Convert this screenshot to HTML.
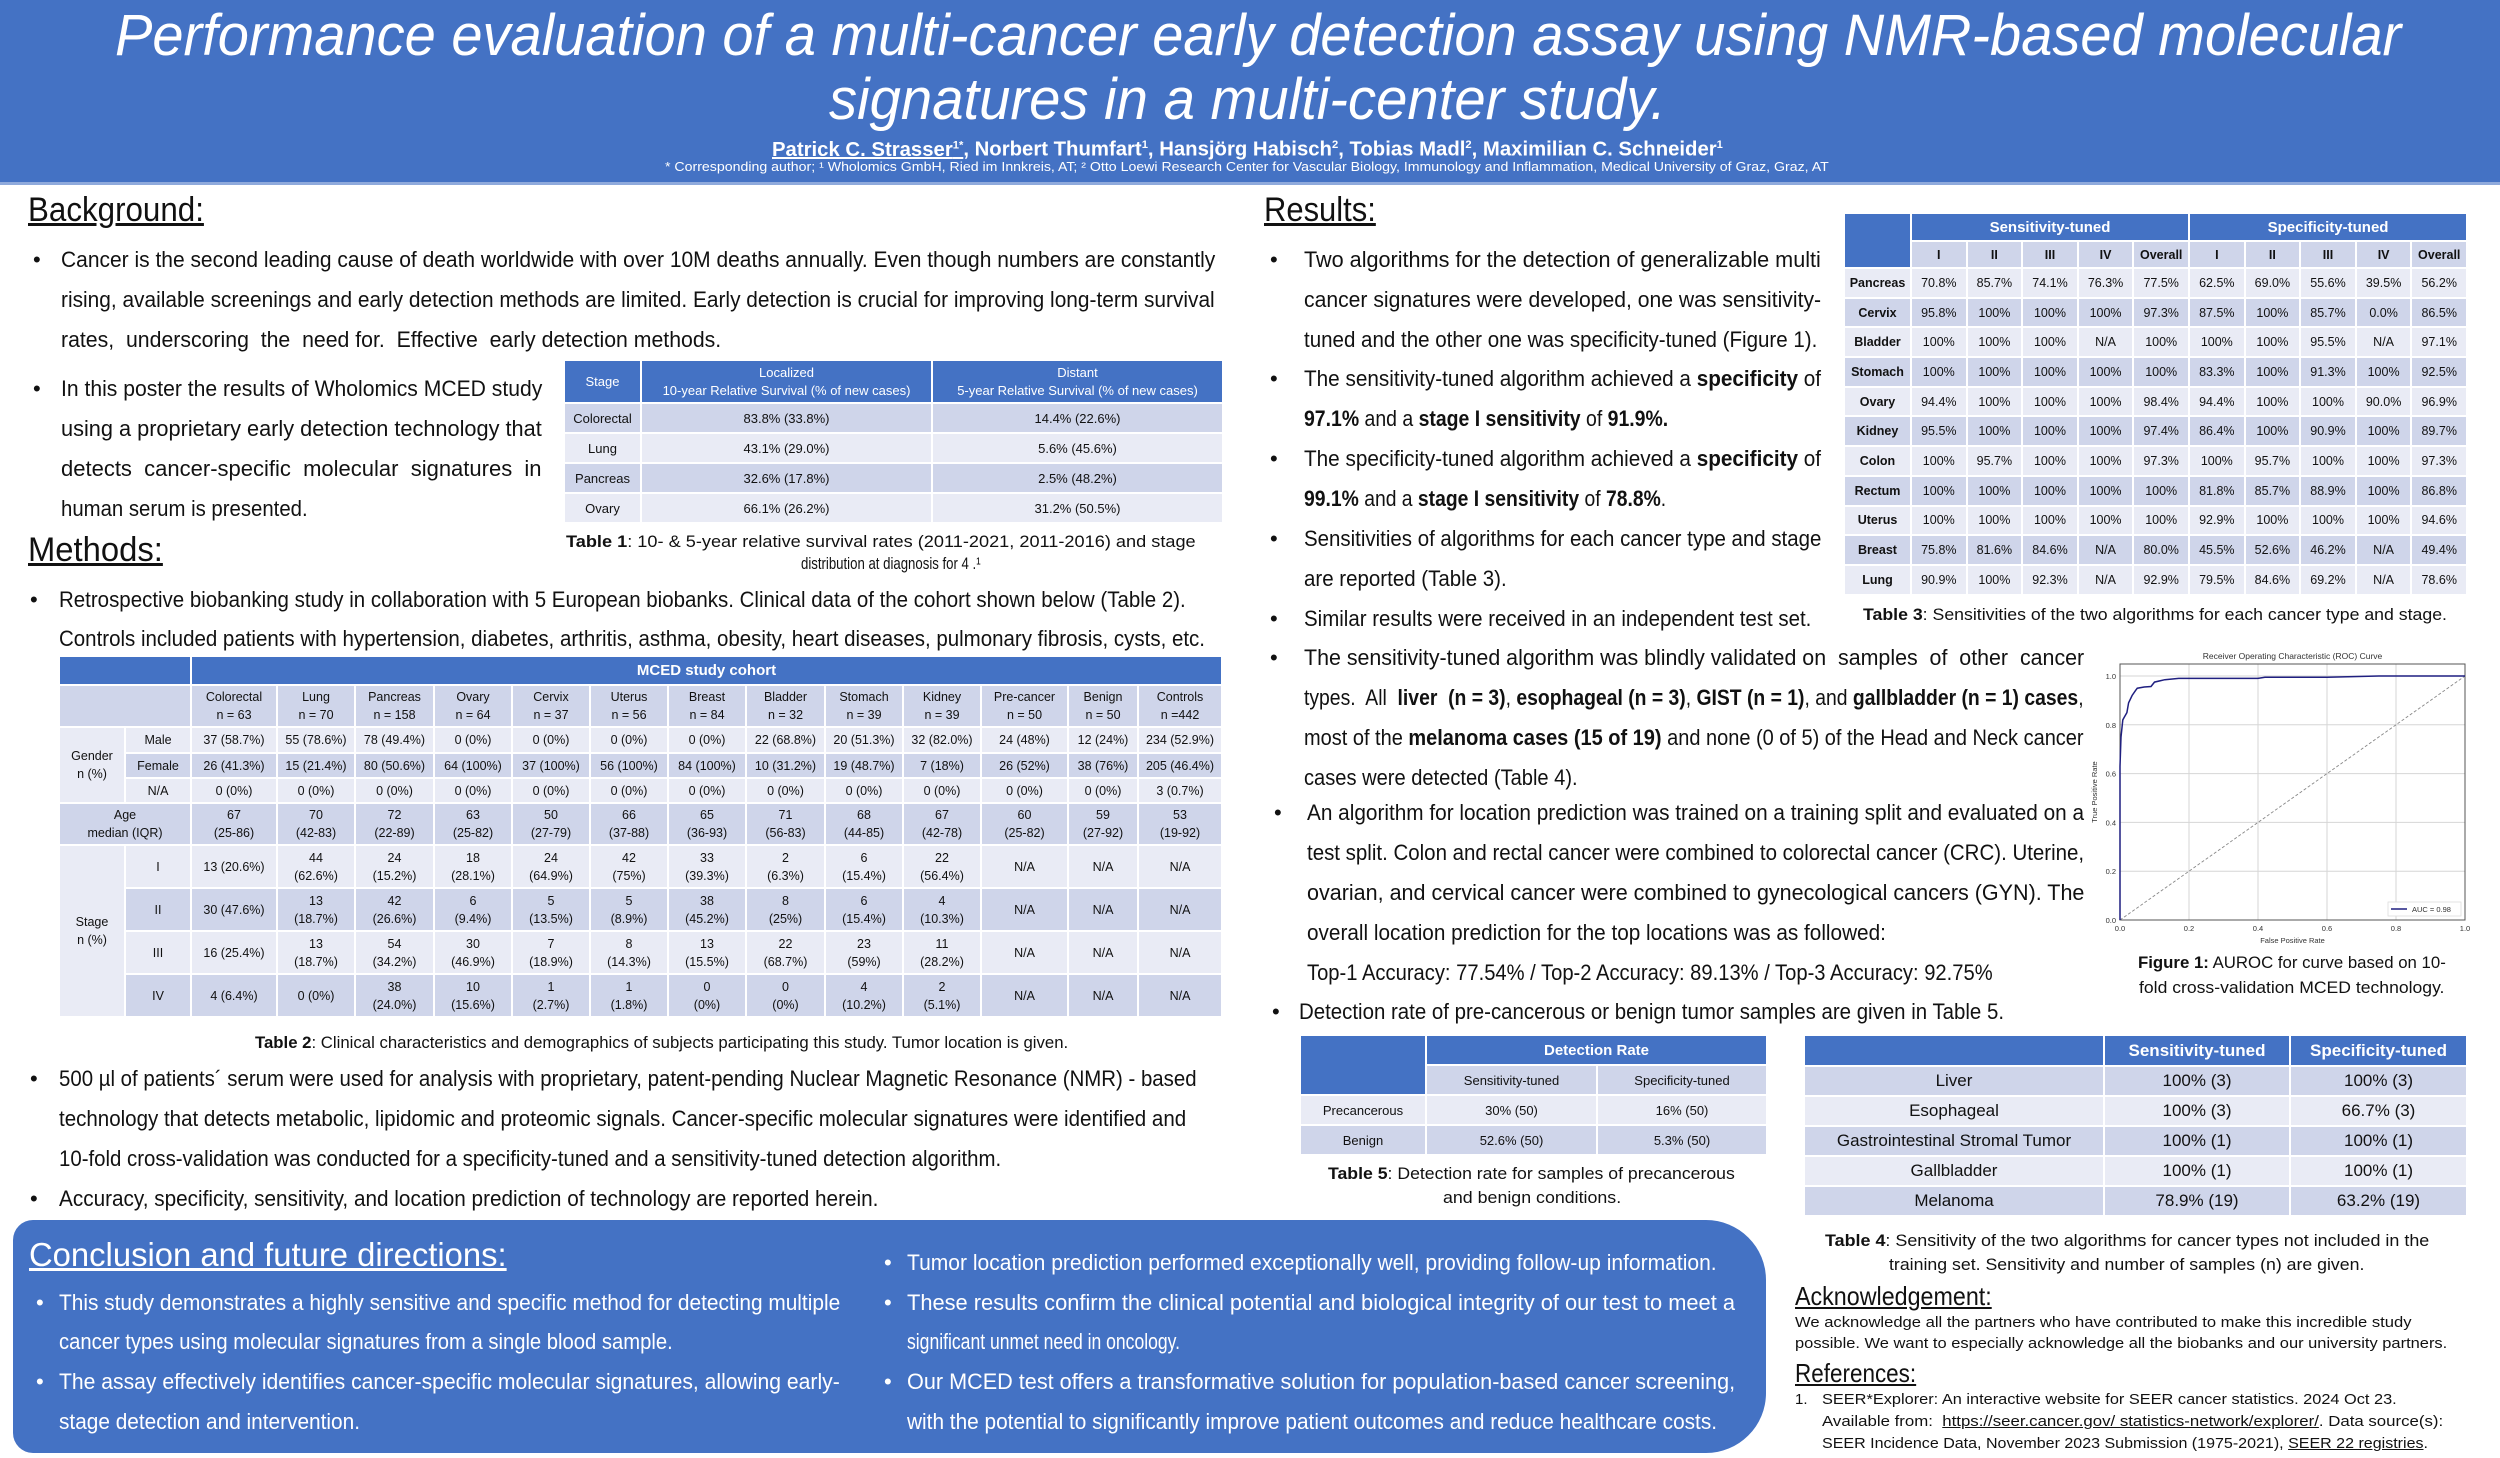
<!DOCTYPE html>
<html><head><meta charset="utf-8">
<style>
*{margin:0;padding:0;box-sizing:border-box}
body{width:2500px;height:1458px;position:relative;background:#fff;font-family:"Liberation Sans",sans-serif;color:#111;overflow:hidden}
.ln{position:absolute;white-space:pre;line-height:30px;font-size:22px;transform-origin:0 50%}
.bu{position:absolute;font-size:22px;line-height:30px}
.h{position:absolute;white-space:pre;font-size:34px;line-height:44px;text-decoration:underline;transform-origin:0 50%}
.w{color:#fff}
table{position:absolute;border-collapse:collapse;table-layout:fixed;font-family:"Liberation Sans",sans-serif}
td{border:2px solid #fff;text-align:center;vertical-align:middle;padding:0;overflow:hidden;white-space:nowrap}
.bh{background:#4472c4;color:#fff;font-weight:bold}
.d td,td.d{background:#cfd5ea}
.l td,td.l{background:#e9ebf5}
.bh2{background:#4472c4 !important;color:#fff}
</style></head><body>
<div style="position:absolute;left:0;top:0;width:2500px;height:185px;background:#4472c4;border-bottom:3px solid #8faadc"></div>
<div class="ln w" data-w="2286" style="left:115px;top:3px;font-size:58px;line-height:66px;font-style:italic">Performance evaluation of a multi-cancer early detection assay using NMR-based molecular</div>
<div class="ln w" data-w="837" style="left:829px;top:67px;font-size:58px;line-height:66px;font-style:italic">signatures in a multi-center study.</div>
<div class="ln w" data-w="951" style="left:772px;top:131px;font-size:20px;line-height:28px;font-weight:bold"><u>Patrick C. Strasser<sup style="font-size:11px">1*</sup></u>, Norbert Thumfart<sup style="font-size:11px">1</sup>, Hansjörg Habisch<sup style="font-size:11px">2</sup>, Tobias Madl<sup style="font-size:11px">2</sup>, Maximilian C. Schneider<sup style="font-size:11px">1</sup></div>
<div class="ln w" data-w="1164" style="left:665px;top:158px;font-size:13px;line-height:18px">* Corresponding author; ¹ Wholomics GmbH, Ried im Innkreis, AT; ² Otto Loewi Research Center for Vascular Biology, Immunology and Inflammation, Medical University of Graz, Graz, AT</div>

<div class="h" data-w="176" style="left:28px;top:188px">Background:</div>
<div class="bu" style="left:33px;top:245px">•</div>
<div class="ln" data-w="1154" style="left:61px;top:245px">Cancer is the second leading cause of death worldwide with over 10M deaths annually. Even though numbers are constantly</div>
<div class="ln" data-w="1154" style="left:61px;top:285px">rising, available screenings and early detection methods are limited. Early detection is crucial for improving long-term survival</div>
<div class="ln" data-w="660" style="left:61px;top:325px">rates,  underscoring  the  need for.  Effective  early detection methods.</div>
<div class="bu" style="left:33px;top:374px">•</div>
<div class="ln" data-w="481" style="left:61px;top:374px">In this poster the results of Wholomics MCED study</div>
<div class="ln" data-w="481" style="left:61px;top:414px">using a proprietary early detection technology that</div>
<div class="ln" data-w="481" style="left:61px;top:454px">detects  cancer-specific  molecular  signatures  in</div>
<div class="ln" data-w="247" style="left:61px;top:494px">human serum is presented.</div>

<table style="left:563px;top:359px;width:659px;font-size:13px">
<colgroup><col style="width:77px"><col style="width:291px"><col style="width:291px"></colgroup>
<tr style="height:43px"><td class="bh" style="font-weight:normal">Stage</td><td class="bh" style="font-weight:normal;line-height:18px">Localized<br>10-year Relative Survival (% of new cases)</td><td class="bh" style="font-weight:normal;line-height:18px">Distant<br>5-year Relative Survival (% of new cases)</td></tr>
<tr class="d" style="height:30px"><td>Colorectal</td><td>83.8% (33.8%)</td><td>14.4% (22.6%)</td></tr>
<tr class="l" style="height:30px"><td>Lung</td><td>43.1% (29.0%)</td><td>5.6% (45.6%)</td></tr>
<tr class="d" style="height:30px"><td>Pancreas</td><td>32.6% (17.8%)</td><td>2.5% (48.2%)</td></tr>
<tr class="l" style="height:30px"><td>Ovary</td><td>66.1% (26.2%)</td><td>31.2% (50.5%)</td></tr>
</table>
<div class="ln" data-w="630" style="left:566px;top:531px;font-size:17px;line-height:22px"><b>Table 1</b>: 10- &amp; 5-year relative survival rates (2011-2021, 2011-2016) and stage</div>
<div class="ln" data-w="180" style="left:801px;top:553px;font-size:17px;line-height:22px">distribution at diagnosis for 4 .¹</div>

<div class="h" data-w="135" style="left:28px;top:528px">Methods:</div>
<div class="bu" style="left:30px;top:585px">•</div>
<div class="ln" data-w="1127" style="left:59px;top:585px">Retrospective biobanking study in collaboration with 5 European biobanks. Clinical data of the cohort shown below (Table 2).</div>
<div class="ln" data-w="1146" style="left:59px;top:624px">Controls included patients with hypertension, diabetes, arthritis, asthma, obesity, heart diseases, pulmonary fibrosis, cysts, etc.</div>

<table style="left:58px;top:655px;width:1163px;font-size:12.5px">
<colgroup><col style="width:66px"><col style="width:66px"><col style="width:86px"><col style="width:78px"><col style="width:79px"><col style="width:78px"><col style="width:78px"><col style="width:78px"><col style="width:78px"><col style="width:79px"><col style="width:78px"><col style="width:78px"><col style="width:87px"><col style="width:70px"><col style="width:84px"></colgroup>
<tr style="height:29px"><td colspan="2" class="bh"></td><td colspan="13" class="bh" style="font-size:15px">MCED study cohort</td></tr>
<tr class="d" style="height:42px;line-height:18px"><td colspan="2"></td><td>Colorectal<br>n = 63</td><td>Lung<br>n = 70</td><td>Pancreas<br>n = 158</td><td>Ovary<br>n = 64</td><td>Cervix<br>n = 37</td><td>Uterus<br>n = 56</td><td>Breast<br>n = 84</td><td>Bladder<br>n = 32</td><td>Stomach<br>n = 39</td><td>Kidney<br>n = 39</td><td>Pre-cancer<br>n = 50</td><td>Benign<br>n = 50</td><td>Controls<br>n =442</td></tr>
<tr class="l" style="height:26px"><td rowspan="3" class="l" style="line-height:18px">Gender<br>n (%)</td><td>Male</td><td>37 (58.7%)</td><td>55 (78.6%)</td><td>78 (49.4%)</td><td>0 (0%)</td><td>0 (0%)</td><td>0 (0%)</td><td>0 (0%)</td><td>22 (68.8%)</td><td>20 (51.3%)</td><td>32 (82.0%)</td><td>24 (48%)</td><td>12 (24%)</td><td>234 (52.9%)</td></tr>
<tr class="d" style="height:25px"><td>Female</td><td>26 (41.3%)</td><td>15 (21.4%)</td><td>80 (50.6%)</td><td>64 (100%)</td><td>37 (100%)</td><td>56 (100%)</td><td>84 (100%)</td><td>10 (31.2%)</td><td>19 (48.7%)</td><td>7 (18%)</td><td>26 (52%)</td><td>38 (76%)</td><td>205 (46.4%)</td></tr>
<tr class="l" style="height:25px"><td>N/A</td><td>0 (0%)</td><td>0 (0%)</td><td>0 (0%)</td><td>0 (0%)</td><td>0 (0%)</td><td>0 (0%)</td><td>0 (0%)</td><td>0 (0%)</td><td>0 (0%)</td><td>0 (0%)</td><td>0 (0%)</td><td>0 (0%)</td><td>3 (0.7%)</td></tr>
<tr class="d" style="height:42px;line-height:18px"><td colspan="2">Age<br>median (IQR)</td><td>67<br>(25-86)</td><td>70<br>(42-83)</td><td>72<br>(22-89)</td><td>63<br>(25-82)</td><td>50<br>(27-79)</td><td>66<br>(37-88)</td><td>65<br>(36-93)</td><td>71<br>(56-83)</td><td>68<br>(44-85)</td><td>67<br>(42-78)</td><td>60<br>(25-82)</td><td>59<br>(27-92)</td><td>53<br>(19-92)</td></tr>
<tr class="l" style="height:43px;line-height:18px"><td rowspan="4" class="l">Stage<br>n (%)</td><td>I</td><td>13 (20.6%)</td><td>44<br>(62.6%)</td><td>24<br>(15.2%)</td><td>18<br>(28.1%)</td><td>24<br>(64.9%)</td><td>42<br>(75%)</td><td>33<br>(39.3%)</td><td>2<br>(6.3%)</td><td>6<br>(15.4%)</td><td>22<br>(56.4%)</td><td>N/A</td><td>N/A</td><td>N/A</td></tr>
<tr class="d" style="height:43px;line-height:18px"><td>II</td><td>30 (47.6%)</td><td>13<br>(18.7%)</td><td>42<br>(26.6%)</td><td>6<br>(9.4%)</td><td>5<br>(13.5%)</td><td>5<br>(8.9%)</td><td>38<br>(45.2%)</td><td>8<br>(25%)</td><td>6<br>(15.4%)</td><td>4<br>(10.3%)</td><td>N/A</td><td>N/A</td><td>N/A</td></tr>
<tr class="l" style="height:43px;line-height:18px"><td>III</td><td>16 (25.4%)</td><td>13<br>(18.7%)</td><td>54<br>(34.2%)</td><td>30<br>(46.9%)</td><td>7<br>(18.9%)</td><td>8<br>(14.3%)</td><td>13<br>(15.5%)</td><td>22<br>(68.7%)</td><td>23<br>(59%)</td><td>11<br>(28.2%)</td><td>N/A</td><td>N/A</td><td>N/A</td></tr>
<tr class="d" style="height:43px;line-height:18px"><td>IV</td><td>4 (6.4%)</td><td>0 (0%)</td><td>38<br>(24.0%)</td><td>10<br>(15.6%)</td><td>1<br>(2.7%)</td><td>1<br>(1.8%)</td><td>0<br>(0%)</td><td>0<br>(0%)</td><td>4<br>(10.2%)</td><td>2<br>(5.1%)</td><td>N/A</td><td>N/A</td><td>N/A</td></tr>
</table>
<div class="ln" data-w="813" style="left:255px;top:1032px;font-size:17px;line-height:22px"><b>Table 2</b>: Clinical characteristics and demographics of subjects participating this study. Tumor location is given.</div>

<div class="bu" style="left:30px;top:1064px">•</div>
<div class="ln" data-w="1138" style="left:59px;top:1064px">500 µl of patients´ serum were used for analysis with proprietary, patent-pending Nuclear Magnetic Resonance (NMR) - based</div>
<div class="ln" data-w="1127" style="left:59px;top:1104px">technology that detects metabolic, lipidomic and proteomic signals. Cancer-specific molecular signatures were identified and</div>
<div class="ln" data-w="942" style="left:59px;top:1144px">10-fold cross-validation was conducted for a specificity-tuned and a sensitivity-tuned detection algorithm.</div>
<div class="bu" style="left:30px;top:1184px">•</div>
<div class="ln" data-w="819" style="left:59px;top:1184px">Accuracy, specificity, sensitivity, and location prediction of technology are reported herein.</div>

<div style="position:absolute;left:13px;top:1220px;width:1753px;height:233px;background:#4472c4;border-radius:20px 60px 60px 20px"></div>
<div class="h w" data-w="478" style="left:29px;top:1233px;font-size:33px">Conclusion and future directions:</div>
<div class="bu w" style="left:36px;top:1288px">•</div>
<div class="ln w" data-w="781" style="left:59px;top:1288px">This study demonstrates a highly sensitive and specific method for detecting multiple</div>
<div class="ln w" data-w="614" style="left:59px;top:1327px">cancer types using molecular signatures from a single blood sample.</div>
<div class="bu w" style="left:36px;top:1367px">•</div>
<div class="ln w" data-w="781" style="left:59px;top:1367px">The assay effectively identifies cancer-specific molecular signatures, allowing early-</div>
<div class="ln w" data-w="301" style="left:59px;top:1407px">stage detection and intervention.</div>
<div class="bu w" style="left:884px;top:1248px">•</div>
<div class="ln w" data-w="810" style="left:907px;top:1248px">Tumor location prediction performed exceptionally well, providing follow-up information.</div>
<div class="bu w" style="left:884px;top:1288px">•</div>
<div class="ln w" data-w="828" style="left:907px;top:1288px">These results confirm the clinical potential and biological integrity of our test to meet a</div>
<div class="ln w" data-w="273" style="left:907px;top:1327px">significant unmet need in oncology.</div>
<div class="bu w" style="left:884px;top:1367px">•</div>
<div class="ln w" data-w="828" style="left:907px;top:1367px">Our MCED test offers a transformative solution for population-based cancer screening,</div>
<div class="ln w" data-w="810" style="left:907px;top:1407px">with the potential to significantly improve patient outcomes and reduce healthcare costs.</div>

<div class="h" data-w="112" style="left:1264px;top:188px">Results:</div>
<div class="bu" style="left:1270px;top:245px">•</div>
<div class="ln" data-w="517" style="left:1304px;top:245px">Two algorithms for the detection of generalizable multi</div>
<div class="ln" data-w="517" style="left:1304px;top:285px">cancer signatures were developed, one was sensitivity-</div>
<div class="ln" data-w="513" style="left:1304px;top:325px">tuned and the other one was specificity-tuned (Figure 1).</div>
<div class="bu" style="left:1270px;top:364px">•</div>
<div class="ln" data-w="517" style="left:1304px;top:364px">The sensitivity-tuned algorithm achieved a <b>specificity</b> of</div>
<div class="ln" data-w="364" style="left:1304px;top:404px"><b>97.1%</b> and a <b>stage I sensitivity</b> of <b>91.9%.</b></div>
<div class="bu" style="left:1270px;top:444px">•</div>
<div class="ln" data-w="517" style="left:1304px;top:444px">The specificity-tuned algorithm achieved a <b>specificity</b> of</div>
<div class="ln" data-w="362" style="left:1304px;top:484px"><b>99.1%</b> and a <b>stage I sensitivity</b> of <b>78.8%</b>.</div>
<div class="bu" style="left:1270px;top:524px">•</div>
<div class="ln" data-w="517" style="left:1304px;top:524px">Sensitivities of algorithms for each cancer type and stage</div>
<div class="ln" data-w="203" style="left:1304px;top:564px">are reported (Table 3).</div>
<div class="bu" style="left:1270px;top:604px">•</div>
<div class="ln" data-w="507" style="left:1304px;top:604px">Similar results were received in an independent test set.</div>
<div class="bu" style="left:1270px;top:643px">•</div>
<div class="ln" data-w="780" style="left:1304px;top:643px">The sensitivity-tuned algorithm was blindly validated on  samples  of  other  cancer</div>
<div class="ln" data-w="780" style="left:1304px;top:683px">types.  All  <b>liver  (n = 3)</b>, <b>esophageal (n = 3)</b>, <b>GIST (n = 1)</b>, and <b>gallbladder (n = 1) cases</b>,</div>
<div class="ln" data-w="780" style="left:1304px;top:723px">most of the <b>melanoma cases (15 of 19)</b> and none (0 of 5) of the Head and Neck cancer</div>
<div class="ln" data-w="274" style="left:1304px;top:763px">cases were detected (Table 4).</div>
<div class="bu" style="left:1274px;top:798px">•</div>
<div class="ln" data-w="777" style="left:1307px;top:798px">An algorithm for location prediction was trained on a training split and evaluated on a</div>
<div class="ln" data-w="777" style="left:1307px;top:838px">test split. Colon and rectal cancer were combined to colorectal cancer (CRC). Uterine,</div>
<div class="ln" data-w="777" style="left:1307px;top:878px">ovarian, and cervical cancer were combined to gynecological cancers (GYN). The</div>
<div class="ln" data-w="579" style="left:1307px;top:918px">overall location prediction for the top locations was as followed:</div>
<div class="ln" data-w="686" style="left:1307px;top:958px">Top-1 Accuracy: 77.54% / Top-2 Accuracy: 89.13% / Top-3 Accuracy: 92.75%</div>
<div class="bu" style="left:1272px;top:997px">•</div>
<div class="ln" data-w="705" style="left:1299px;top:997px">Detection rate of pre-cancerous or benign tumor samples are given in Table 5.</div>

<table style="left:1843px;top:212px;width:623px;font-size:12.5px">
<colgroup><col style="width:67px"><col span="10" style="width:55.6px"></colgroup>
<tr style="height:28px"><td rowspan="2" class="bh"></td><td colspan="5" class="bh" style="font-size:15px">Sensitivity-tuned</td><td colspan="5" class="bh" style="font-size:15px">Specificity-tuned</td></tr>
<tr class="d" style="height:27px;font-weight:bold"><td>I</td><td>II</td><td>III</td><td>IV</td><td>Overall</td><td>I</td><td>II</td><td>III</td><td>IV</td><td>Overall</td></tr>
<tr class="l" style="height:29.7px"><td><b>Pancreas</b></td><td>70.8%</td><td>85.7%</td><td>74.1%</td><td>76.3%</td><td>77.5%</td><td>62.5%</td><td>69.0%</td><td>55.6%</td><td>39.5%</td><td>56.2%</td></tr>
<tr class="d" style="height:29.7px"><td><b>Cervix</b></td><td>95.8%</td><td>100%</td><td>100%</td><td>100%</td><td>97.3%</td><td>87.5%</td><td>100%</td><td>85.7%</td><td>0.0%</td><td>86.5%</td></tr>
<tr class="l" style="height:29.7px"><td><b>Bladder</b></td><td>100%</td><td>100%</td><td>100%</td><td>N/A</td><td>100%</td><td>100%</td><td>100%</td><td>95.5%</td><td>N/A</td><td>97.1%</td></tr>
<tr class="d" style="height:29.7px"><td><b>Stomach</b></td><td>100%</td><td>100%</td><td>100%</td><td>100%</td><td>100%</td><td>83.3%</td><td>100%</td><td>91.3%</td><td>100%</td><td>92.5%</td></tr>
<tr class="l" style="height:29.7px"><td><b>Ovary</b></td><td>94.4%</td><td>100%</td><td>100%</td><td>100%</td><td>98.4%</td><td>94.4%</td><td>100%</td><td>100%</td><td>90.0%</td><td>96.9%</td></tr>
<tr class="d" style="height:29.7px"><td><b>Kidney</b></td><td>95.5%</td><td>100%</td><td>100%</td><td>100%</td><td>97.4%</td><td>86.4%</td><td>100%</td><td>90.9%</td><td>100%</td><td>89.7%</td></tr>
<tr class="l" style="height:29.7px"><td><b>Colon</b></td><td>100%</td><td>95.7%</td><td>100%</td><td>100%</td><td>97.3%</td><td>100%</td><td>95.7%</td><td>100%</td><td>100%</td><td>97.3%</td></tr>
<tr class="d" style="height:29.7px"><td><b>Rectum</b></td><td>100%</td><td>100%</td><td>100%</td><td>100%</td><td>100%</td><td>81.8%</td><td>85.7%</td><td>88.9%</td><td>100%</td><td>86.8%</td></tr>
<tr class="l" style="height:29.7px"><td><b>Uterus</b></td><td>100%</td><td>100%</td><td>100%</td><td>100%</td><td>100%</td><td>92.9%</td><td>100%</td><td>100%</td><td>100%</td><td>94.6%</td></tr>
<tr class="d" style="height:29.7px"><td><b>Breast</b></td><td>75.8%</td><td>81.6%</td><td>84.6%</td><td>N/A</td><td>80.0%</td><td>45.5%</td><td>52.6%</td><td>46.2%</td><td>N/A</td><td>49.4%</td></tr>
<tr class="l" style="height:29.7px"><td><b>Lung</b></td><td>90.9%</td><td>100%</td><td>92.3%</td><td>N/A</td><td>92.9%</td><td>79.5%</td><td>84.6%</td><td>69.2%</td><td>N/A</td><td>78.6%</td></tr>
</table>
<div class="ln" data-w="584" style="left:1863px;top:604px;font-size:17px;line-height:22px"><b>Table 3</b>: Sensitivities of the two algorithms for each cancer type and stage.</div>

<svg id="roc" style="position:absolute;left:2050px;top:640px" width="450" height="320" font-family="Liberation Sans, sans-serif"></svg>
<div class="ln" data-w="308" style="left:2138px;top:952px;font-size:17px;line-height:22px"><b>Figure 1:</b> AUROC for curve based on 10-</div>
<div class="ln" data-w="305" style="left:2139px;top:977px;font-size:17px;line-height:22px">fold cross-validation MCED technology.</div>

<table style="left:1299px;top:1034px;width:467px;font-size:13px">
<colgroup><col style="width:126px"><col style="width:171px"><col style="width:170px"></colgroup>
<tr style="height:30px"><td rowspan="2" class="bh"></td><td colspan="2" class="bh" style="font-size:15px">Detection Rate</td></tr>
<tr class="d" style="height:30px"><td>Sensitivity-tuned</td><td>Specificity-tuned</td></tr>
<tr class="l" style="height:30px"><td>Precancerous</td><td>30% (50)</td><td>16% (50)</td></tr>
<tr class="d" style="height:30px"><td>Benign</td><td>52.6% (50)</td><td>5.3% (50)</td></tr>
</table>
<div class="ln" data-w="407" style="left:1328px;top:1163px;font-size:17px;line-height:22px"><b>Table 5</b>: Detection rate for samples of precancerous</div>
<div class="ln" data-w="178" style="left:1443px;top:1187px;font-size:17px;line-height:22px">and benign conditions.</div>

<table style="left:1803px;top:1034px;width:663px;font-size:17px">
<colgroup><col style="width:300px"><col style="width:186px"><col style="width:177px"></colgroup>
<tr style="height:31px"><td class="bh"></td><td class="bh">Sensitivity-tuned</td><td class="bh">Specificity-tuned</td></tr>
<tr class="d" style="height:30px"><td>Liver</td><td>100% (3)</td><td>100% (3)</td></tr>
<tr class="l" style="height:30px"><td>Esophageal</td><td>100% (3)</td><td>66.7% (3)</td></tr>
<tr class="d" style="height:30px"><td>Gastrointestinal Stromal Tumor</td><td>100% (1)</td><td>100% (1)</td></tr>
<tr class="l" style="height:30px"><td>Gallbladder</td><td>100% (1)</td><td>100% (1)</td></tr>
<tr class="d" style="height:30px"><td>Melanoma</td><td>78.9% (19)</td><td>63.2% (19)</td></tr>
</table>
<div class="ln" data-w="604" style="left:1825px;top:1230px;font-size:17px;line-height:22px"><b>Table 4</b>: Sensitivity of the two algorithms for cancer types not included in the</div>
<div class="ln" data-w="475" style="left:1889px;top:1254px;font-size:17px;line-height:22px">training set. Sensitivity and number of samples (n) are given.</div>

<div class="h" data-w="197" style="left:1795px;top:1280px;font-size:26px;line-height:32px">Acknowledgement:</div>
<div class="ln" data-w="617" style="left:1795px;top:1313px;font-size:15px;line-height:20px">We acknowledge all the partners who have contributed to make this incredible study</div>
<div class="ln" data-w="652" style="left:1795px;top:1334px;font-size:15px;line-height:20px">possible. We want to especially acknowledge all the biobanks and our university partners.</div>
<div class="h" data-w="121" style="left:1795px;top:1357px;font-size:26px;line-height:32px">References:</div>
<div class="ln" style="left:1795px;top:1390px;font-size:15px;line-height:20px">1.</div>
<div class="ln" data-w="575" style="left:1822px;top:1390px;font-size:15px;line-height:20px">SEER*Explorer: An interactive website for SEER cancer statistics. 2024 Oct 23.</div>
<div class="ln" data-w="621" style="left:1822px;top:1412px;font-size:15px;line-height:20px">Available from:  <u>https://seer.cancer.gov/ statistics-network/explorer/</u>. Data source(s):</div>
<div class="ln" data-w="606" style="left:1822px;top:1434px;font-size:15px;line-height:20px">SEER Incidence Data, November 2023 Submission (1975-2021), <u>SEER 22 registries</u>.</div>

<script>
// ROC chart data
const fpr = [0, 0, 0.003, 0.008, 0.012, 0.02, 0.025, 0.035, 0.045, 0.05, 0.07, 0.09, 0.1, 0.13, 0.17, 0.4, 0.42, 0.6, 0.75, 0.95, 1.0];
const tpr = [0, 0.63, 0.75, 0.82, 0.83, 0.85, 0.89, 0.92, 0.94, 0.95, 0.955, 0.957, 0.975, 0.985, 0.99, 0.99, 0.995, 0.995, 1.0, 1.0, 1.0];
const ticks = [0, 0.2, 0.4, 0.6, 0.8, 1.0];
const tickLabels = ["0.0", "0.2", "0.4", "0.6", "0.8", "1.0"];
const aucLabel = "AUC = 0.98";

(function(){
  const NS = "http://www.w3.org/2000/svg";
  const svg = document.getElementById('roc');
  const X0 = 70, X1 = 415, Y0 = 280, Y1 = 36, top = 24;
  const sx = v => X0 + v * (X1 - X0);
  const sy = v => Y0 - v * (Y0 - Y1);
  function mk(tag, attrs, txt){
    const e = document.createElementNS(NS, tag);
    for (const k in attrs) e.setAttribute(k, attrs[k]);
    if (txt !== undefined) e.textContent = txt;
    svg.appendChild(e);
    return e;
  }
  ticks.forEach((t, i) => {
    const gx = mk('line', {x1: sx(t), x2: sx(t), y1: top, y2: Y0, stroke: '#d6d6d6', 'stroke-width': 1});
    
    
    const gy = mk('line', {x1: X0, x2: X1, y1: sy(t), y2: sy(t), stroke: '#d6d6d6', 'stroke-width': 1});
    
    
    const tx = mk('text', {x: sx(t), y: Y0 + 11, 'font-size': 7.5, 'text-anchor': 'middle', fill: '#333'}, tickLabels[i]);
    
    
    const ty = mk('text', {x: X0 - 4, y: sy(t) + 3, 'font-size': 7.5, 'text-anchor': 'end', fill: '#333'}, tickLabels[i]);
    
    
  });
  const frame = mk('rect', {x: X0, y: top, width: X1 - X0, height: Y0 - top, fill: 'none', stroke: '#555', 'stroke-width': 1});
  
  
  const diag = mk('line', {x1: sx(0), y1: sy(0), x2: sx(1), y2: sy(1), stroke: '#888', 'stroke-width': 0.9, 'stroke-dasharray': '3,2'});
  
  
  let d = '';
  fpr.forEach((f, i) => { d += (i ? 'L' : 'M') + sx(f).toFixed(1) + ',' + sy(tpr[i]).toFixed(1); });
  const curve = mk('path', {d: d, fill: 'none', stroke: '#1f1f80', 'stroke-width': 1.5});
  
  
  const title = mk('text', {x: (X0 + X1) / 2, y: 19, 'font-size': 8.5, 'text-anchor': 'middle', fill: '#333'}, 'Receiver Operating Characteristic (ROC) Curve');
  
  
  const xt = mk('text', {x: (X0 + X1) / 2, y: 303, 'font-size': 7.5, 'text-anchor': 'middle', fill: '#333'}, 'False Positive Rate');
  
  
  const yt = mk('text', {x: 47, y: 152, 'font-size': 7.5, 'text-anchor': 'middle', fill: '#333', transform: 'rotate(-90 47 152)'}, 'True Positive Rate');
  
  
  const lb = mk('rect', {x: 338, y: 262, width: 73, height: 14, fill: '#fff', stroke: '#ddd', 'stroke-width': 0.8});
  
  
  const ll = mk('line', {x1: 341, x2: 357, y1: 269, y2: 269, stroke: '#1f1f80', 'stroke-width': 1.5});
  
  
  const lt = mk('text', {x: 362, y: 272, 'font-size': 7.5, fill: '#333'}, aucLabel);
  
  
})();

document.querySelectorAll('[data-w]').forEach(el => {
  el.style.display = 'inline-block';
  const w = el.offsetWidth;
  const t = parseFloat(el.getAttribute('data-w'));
  if (w > 0) el.style.transform = 'scaleX(' + (t / w) + ')';
});
</script>
</body></html>
